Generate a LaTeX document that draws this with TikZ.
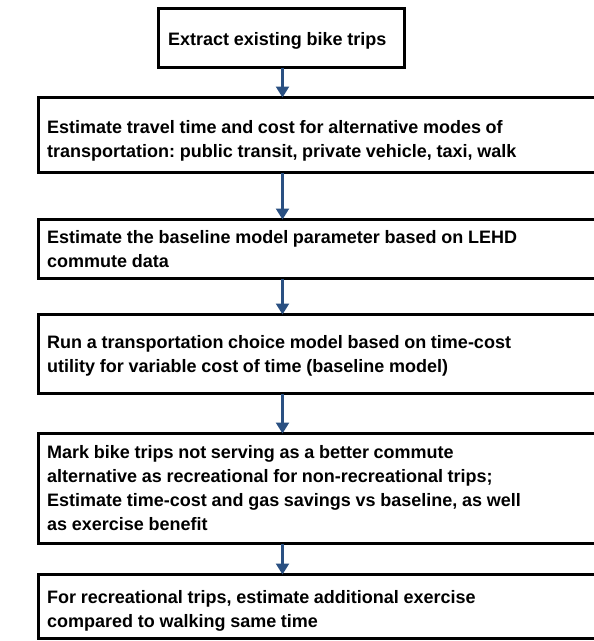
\documentclass[tikz,border=0pt]{standalone}
\usepackage{fontspec}
\setmainfont{Liberation Sans}
\usetikzlibrary{arrows.meta}
\definecolor{arrowblue}{HTML}{2A5082}
\frenchspacing
\tikzset{
  stepbox/.style={draw=black, line width=3pt, fill=white, rectangle, inner sep=0pt, outer sep=0pt, anchor=north west},
  steptext/.style={anchor=base west, inner sep=0pt, text width=560pt, align=left,
    font=\bfseries\fontsize{18}{24}\selectfont,
    execute at begin node={\spaceskip=0.26em\xspaceskip=0.26em\relax}},
  flow/.style={draw=arrowblue, line width=2.2pt, -{Triangle[width=13pt,length=11pt]}}
}
\begin{document}
\begin{tikzpicture}[x=1pt,y=-1pt]
\useasboundingbox (0,0) rectangle (594,641);
\clip (0,0) rectangle (594,641);
\fill[white] (0,0) rectangle (594,641);
% boxes
\node[stepbox, minimum width=246pt, minimum height=59pt] (b1) at (158.5,8.5) {};
\node[stepbox, minimum width=600pt, minimum height=75pt] (b2) at (38.5,97.5) {};
\node[stepbox, minimum width=600pt, minimum height=59pt] (b3) at (38.5,219.5) {};
\node[stepbox, minimum width=600pt, minimum height=79pt] (b4) at (38.5,314.5) {};
\node[stepbox, minimum width=600pt, minimum height=110pt] (b5) at (38.5,433.5) {};
\node[stepbox, minimum width=600pt, minimum height=64pt] (b6) at (38.5,574.5) {};
% texts
\node[steptext] (t1) at (168,45) {Extract existing bike trips};
\node[steptext] (t2) at (47,133) {Estimate travel time and cost for alternative modes of\\transportation: public transit, private vehicle, taxi, walk};
\node[steptext] (t3) at (47,243) {Estimate the baseline model parameter based on LEHD\\commute data};
\node[steptext] (t4) at (47,348) {Run a transportation choice model based on time-cost\\utility for variable cost of time (baseline model)};
\node[steptext] (t5) at (47,458) {Mark bike trips not serving as a better commute\\alternative as recreational for non-recreational trips;\\Estimate time-cost and gas savings vs baseline, as well\\as exercise benefit};
\node[steptext] (t6) at (47,603) {For recreational trips, estimate additional exercise\\compared to walking same time};
% connectors
\coordinate (ax) at (282.5,0);
\draw[flow] (ax |- b1.south) -- (ax |- b2.north);
\draw[flow] (ax |- b2.south) -- (ax |- b3.north);
\draw[flow] (ax |- b3.south) -- (ax |- b4.north);
\draw[flow] (ax |- b4.south) -- (ax |- b5.north);
\draw[flow] (ax |- b5.south) -- (ax |- b6.north);
\end{tikzpicture}
\end{document}
